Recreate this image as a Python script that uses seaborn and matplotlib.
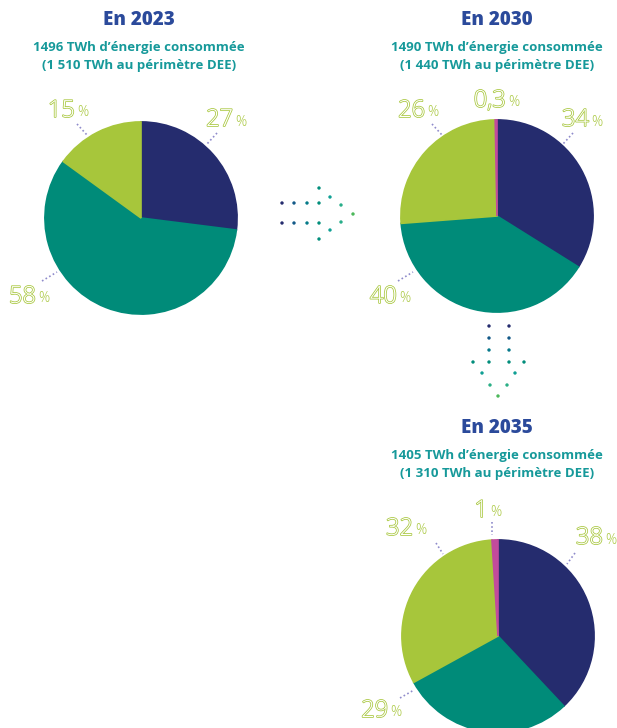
import matplotlib.pyplot as plt
import matplotlib.patheffects as pe
import seaborn as sns

# data
years = ['2023', '2030', '2035']
consumption = ['1496', '1490', '1405']
perimeter_dee = ['1 510', '1 440', '1 310']
navy_share = [27, 34, 38]
teal_share = [58, 40, 29]
lime_share = [15, 26, 32]
magenta_share = [0, 0.3, 1]

NAVY = '#252c6e'
TEAL = '#008b79'
LIME = '#a7c63b'
MAGENTA = '#c24b9c'
TITLE_BLUE = '#2b4a9b'
SUB_TEAL = '#16999a'
LEADER = '#8f8bcb'

sns.set_theme(style='white')
plt.rcParams['font.family'] = ['Open Sans', 'DejaVu Sans']

W, H = 617, 728
fig = plt.figure(figsize=(W / 100, H / 100), dpi=100)
bg = fig.add_axes([0, 0, 1, 1])
bg.set_xlim(0, W)
bg.set_ylim(H, 0)
bg.axis('off')

# layout (pixels)
pie_centers = [(141, 218), (497, 216), (498, 636)]
radius = 98
title_pos = [(139, 20), (497, 20), (497, 428)]
# label anchor (right edge of number, vertical centre) for navy, teal, lime, magenta
label_pos = [
    [(233, 120), (36, 297), (75, 111), None],
    [(589, 120), (397, 297), (425, 111), (506, 101)],
    [(603, 538), (388, 711), (413, 529), (488, 511)],
]
leaders = [
    [((217, 133), (207, 144)), ((42, 281), (57, 272)), ((77, 124), (87, 135)), None],
    [((573, 133), (563, 144)), ((398, 281), (413, 272)), ((432, 124), (442, 135)), None],
    [((575, 553), (567, 564)), ((400, 698), (414, 690)), ((436, 543), (443, 554)), ((492, 522), (492, 535))],
]

colors = sns.color_palette([NAVY, TEAL, LIME, MAGENTA])
outline = [pe.Stroke(linewidth=1.1, foreground=LIME), pe.Normal()]


def fmt(v):
    return f'{v:g}'.replace('.', ',')


for i, year in enumerate(years):
    tx, ty = title_pos[i]
    bg.text(tx, ty, f'En {year}', ha='center', va='center', fontsize=13.5,
            fontweight='heavy', color=TITLE_BLUE)
    bg.text(tx, ty + 28, f'{consumption[i]} TWh d\u2019énergie consommée', ha='center',
            va='center', fontsize=9.5, fontweight='bold', color=SUB_TEAL)
    bg.text(tx, ty + 46, f'({perimeter_dee[i]} TWh au périmètre DEE)', ha='center',
            va='center', fontsize=9.5, fontweight='bold', color=SUB_TEAL)

    shares = [navy_share[i], teal_share[i], lime_share[i], magenta_share[i]]
    cx, cy = pie_centers[i]
    ax = fig.add_axes([(cx - radius) / W, 1 - (cy + radius) / H, 2 * radius / W, 2 * radius / H])
    keep = [k for k, s in enumerate(shares) if s > 0]
    wedges, _ = ax.pie([shares[k] for k in keep], colors=[colors[k] for k in keep],
                       startangle=90, counterclock=False, radius=1,
                       wedgeprops=dict(linewidth=1.2))
    for w in wedges:
        w.set_edgecolor(w.get_facecolor())
    ax.set_xlim(-1.02, 1.02)
    ax.set_ylim(-1.02, 1.02)
    ax.axis('off')

    for k, s in enumerate(shares):
        if s <= 0 or label_pos[i][k] is None:
            continue
        lx, ly = label_pos[i][k]
        bg.text(lx, ly, fmt(s), ha='right', va='center', fontsize=17, fontweight='light',
                color='white', path_effects=outline)
        bg.text(lx + 2, ly + 2, '%', ha='left', va='center', fontsize=10,
                fontweight='light', color=LIME)
        if leaders[i][k] is not None:
            (x0, y0), (x1, y1) = leaders[i][k]
            bg.plot([x0, x1], [y0, y1], ls=(0, (1, 1.5)), lw=1.2, color=LEADER)

# dotted arrows between the pies
arrow_cmap = sns.blend_palette([NAVY, '#0b6f95', TEAL, '#17a9a0', '#4cb85b'], as_cmap=True)
h_x = [282, 294, 307, 319, 282, 294, 307, 319, 319, 330, 341, 353, 341, 330, 319]
h_y = [203, 203, 203, 203, 223, 223, 223, 223, 188, 197, 205, 214, 222, 230, 239]
bg.scatter(h_x, h_y, c=h_x, cmap=arrow_cmap, vmin=282, vmax=353, s=6, linewidths=0)

v_x = [489, 489, 489, 489, 509, 509, 509, 509, 473, 524, 482, 515, 490, 507, 498]
v_y = [326, 338, 350, 362, 326, 338, 350, 362, 362, 362, 373, 373, 385, 385, 396]
bg.scatter(v_x, v_y, c=v_y, cmap=arrow_cmap, vmin=326, vmax=396, s=6, linewidths=0)

fig.savefig('out.png', dpi=100)
